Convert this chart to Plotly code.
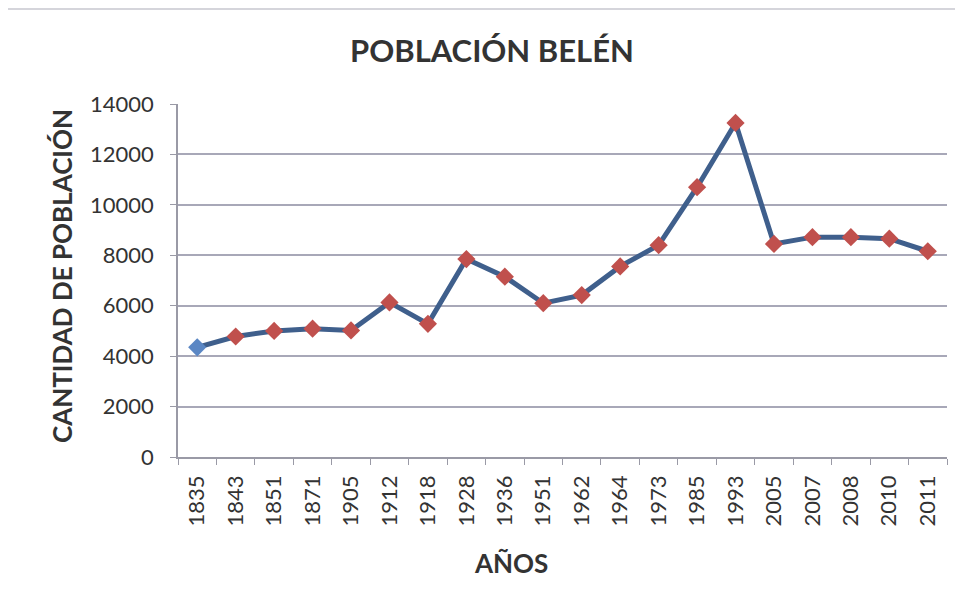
import plotly.graph_objects as go

years = ["1835", "1843", "1851", "1871", "1905", "1912", "1918", "1928", "1936", "1951",
         "1962", "1964", "1973", "1985", "1993", "2005", "2007", "2008", "2010", "2011"]
population = [4350, 4780, 5000, 5090, 5020, 6130, 5280, 7850, 7150, 6100,
              6420, 7560, 8400, 10700, 13250, 8450, 8720, 8720, 8660, 8160]
y_ticks = [0, 2000, 4000, 6000, 8000, 10000, 12000, 14000]

LINE = "#3F5F8C"
RED = "#C0504D"
BLUE = "#5B87C4"
marker_colors = [BLUE] + [RED] * (len(years) - 1)

FONT = "Lato"

fig = go.Figure()
fig.add_trace(go.Scatter(
    x=years, y=population, mode="lines+markers",
    line=dict(color=LINE, width=5),
    marker=dict(symbol="diamond", size=14, color=marker_colors, line=dict(width=0)),
    showlegend=False,
))

fig.update_layout(
    width=955, height=589,
    margin=dict(l=170, r=16, t=96, b=140, autoexpand=False),
    paper_bgcolor="white", plot_bgcolor="white",
    font=dict(family=FONT, color="#333333"),
    xaxis=dict(
        type="category", range=[-0.5, len(years) - 0.5], autorange=False,
        tickangle=-90, tickson="boundaries",
        ticks="outside", ticklen=6, tickcolor="#9a9aa6",
        showline=True, linecolor="#9a9aa6", linewidth=1.5,
        showgrid=False, tickfont=dict(size=22, family=FONT, color="#333333"),
        ticklabelstandoff=8, automargin=False,
    ),
    yaxis=dict(
        range=[0, 14000], autorange=False, tickvals=y_ticks, ticktext=[str(v) for v in y_ticks],
        ticks="outside", ticklen=6, tickcolor="#9a9aa6",
        showline=True, linecolor="#9a9aa6", linewidth=1.5,
        showgrid=True, gridcolor="#a8a8b8", gridwidth=1.5,
        zeroline=False, automargin=False,
        tickfont=dict(size=22, family=FONT, color="#333333"),
        ticklabelstandoff=12,
    ),
    annotations=[
        dict(text="<b>POBLACIÓN BELÉN</b>", xref="paper", yref="paper",
             x=0.408, y=1.153, xanchor="center", yanchor="middle", showarrow=False,
             font=dict(size=31, family=FONT, color="#333333")),
        dict(text="<b>CANTIDAD DE POBLACIÓN</b>", xref="paper", yref="paper",
             x=-0.1508, y=0.5127, xanchor="center", yanchor="middle", showarrow=False,
             textangle=-90, font=dict(size=26, family=FONT, color="#333333")),
        dict(text="<b>AÑOS</b>", xref="paper", yref="paper",
             x=0.433, y=-0.300, xanchor="center", yanchor="middle", showarrow=False,
             font=dict(size=26, family=FONT, color="#333333")),
    ],
    shapes=[
        dict(type="rect", xref="paper", yref="paper",
             x0=(6 - 178) / 769, x1=(975 - 178) / 769,
             y0=(457 - 610) / 353, y1=(457 - 9) / 353,
             line=dict(color="#c8c8d0", width=1.5), layer="below"),
    ],
)

fig.write_html("out.html")
